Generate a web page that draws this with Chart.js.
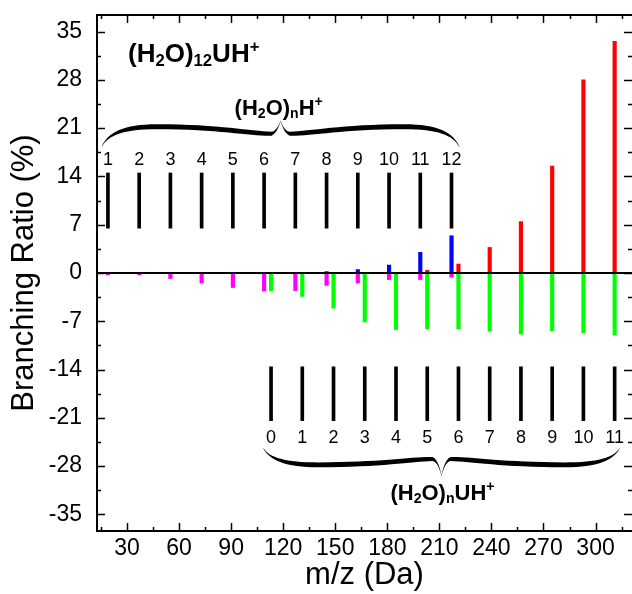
<!DOCTYPE html>
<html>
<head>
<meta charset="utf-8">
<script src="https://cdn.jsdelivr.net/npm/chart.js@4"></script>
<style>
  body { margin: 0; background: #fff; }
  #wrap { width: 632px; height: 594px; }
</style>
</head>
<body>
<div id="wrap"><canvas id="chart" width="632" height="594"></canvas></div>
<script>
// masses (Da) of the two cluster series
const waterN = [1, 2, 3, 4, 5, 6, 7, 8, 9, 10, 11, 12];
const waterMass = [19, 37, 55, 73, 91, 109, 127, 145, 163, 181, 199, 217];
const uracilN = [0, 1, 2, 3, 4, 5, 6, 7, 8, 9, 10, 11];
const uracilMass = [113, 131, 149, 167, 185, 203, 221, 239, 257, 275, 293, 311];

// branching ratios (%)
const magentaVals = [-0.25, -0.25, -0.8, -1.45, -2.1, -2.6, -2.55, -1.8, -1.45, -0.95, -0.95, -0.6];
const blueMass = [145, 163, 181, 199, 217];
const blueVals = [0.2, 0.5, 1.15, 3.0, 5.4];
const greenVals = [-2.55, -3.4, -5.1, -7.1, -8.2, -8.1, -8.1, -8.45, -8.85, -8.35, -8.65, -9.0];
const redMass = [203, 221, 239, 257, 275, 293, 311];
const redVals = [0.4, 1.3, 3.7, 7.45, 15.5, 28.0, 33.6];

// marker sticks
const waterStick = [6.5, 14.5];
const uracilStick = [-21.4, -13.6];

// axis ticks
const xTicks = [30, 60, 90, 120, 150, 180, 210, 240, 270, 300];
const xMinor = [15, 45, 75, 105, 135, 165, 195, 225, 255, 285, 315];
const yTicks = [-35, -28, -21, -14, -7, 0, 7, 14, 21, 28, 35];
const yMinor = [-31.5, -24.5, -17.5, -10.5, -3.5, 3.5, 10.5, 17.5, 24.5, 31.5];

const FONT = '"Liberation Sans", Arial, Helvetica, sans-serif';

function pts(xs, ys) { return xs.map((x, i) => ({ x: x, y: ys[i] })); }

function chem(ctx, parts, x, y, size, align) {
    // parts: [text, kind] kind = '', 'sub', 'sup'
    const small = size * 0.64;
    let w = 0;
    parts.forEach(p => {
        ctx.font = 'bold ' + (p[1] ? small : size) + 'px ' + FONT;
        w += ctx.measureText(p[0]).width;
    });
    let cx = align === 'left' ? x : x - w / 2;
    ctx.textAlign = 'left';
    ctx.textBaseline = 'alphabetic';
    const base = y + size * 0.36;
    parts.forEach(p => {
        ctx.font = 'bold ' + (p[1] ? small : size) + 'px ' + FONT;
        let dy = 0;
        if (p[1] === 'sub') dy = size * 0.16;
        if (p[1] === 'sup') dy = -size * 0.38;
        ctx.fillText(p[0], cx, base + dy);
        cx += ctx.measureText(p[0]).width;
    });
}

function brace(ctx, x0, x1, yE, yB, yC) {
    const xc = (x0 + x1) / 2;
    const s = (yE - yB) * 0.35;
    const dir = yB < yE ? -1 : 1;
    // [x, y, weight]
    const p = [
        [x0, yE, 0.1],
        [x0 + 6, yB + (yE - yB) * 0.35, 0.5], [x0 + 22, yB, 1], [x0 + 55, yB, 1],
        [xc - 60, yB, 1], [xc - 30, yB + s, 1], [xc - 9, yB + s, 0.8],
        [xc - 3, yB + s * 0.7, 0.5], [xc - 1, yC + (yB - yC) * 0.3, 0.3], [xc, yC, 0.15],
        [xc + 1, yC + (yB - yC) * 0.3, 0.3], [xc + 3, yB + s * 0.7, 0.5], [xc + 9, yB + s, 0.8],
        [xc + 30, yB + s, 1], [xc + 60, yB, 1], [x1 - 55, yB, 1],
        [x1 - 22, yB, 1], [x1 - 6, yB + (yE - yB) * 0.35, 0.5], [x1, yE, 0.1]
    ];
    const h = 2.4;
    ctx.beginPath();
    ctx.moveTo(p[0][0], p[0][1] + dir * h * p[0][2]);
    for (let i = 1; i < p.length; i += 3) {
        ctx.bezierCurveTo(p[i][0], p[i][1] + dir * h * p[i][2],
            p[i + 1][0], p[i + 1][1] + dir * h * p[i + 1][2],
            p[i + 2][0], p[i + 2][1] + dir * h * p[i + 2][2]);
    }
    const r = p.slice().reverse();
    ctx.lineTo(r[0][0], r[0][1] - dir * h * r[0][2]);
    for (let i = 1; i < r.length; i += 3) {
        ctx.bezierCurveTo(r[i][0], r[i][1] - dir * h * r[i][2],
            r[i + 1][0], r[i + 1][1] - dir * h * r[i + 1][2],
            r[i + 2][0], r[i + 2][1] - dir * h * r[i + 2][2]);
    }
    ctx.closePath();
    ctx.fillStyle = '#000';
    ctx.fill();
}

const frame = {
    id: 'frame',
    afterDatasetsDraw(chart) {
        const { ctx, chartArea: a, scales: { x, y } } = chart;
        ctx.save();
        ctx.strokeStyle = '#000';
        ctx.lineWidth = 2;
        const y0 = y.getPixelForValue(0);
        ctx.beginPath();
        ctx.moveTo(a.left, y0);
        ctx.lineTo(a.right, y0);
        ctx.stroke();
        ctx.restore();
    },
    afterDraw(chart) {
        const { ctx, chartArea: a, scales: { x, y } } = chart;
        ctx.save();
        ctx.strokeStyle = '#000';
        ctx.lineWidth = 2;
        ctx.beginPath();
        ctx.moveTo(a.right + 1, a.top);
        ctx.lineTo(a.left, a.top);
        ctx.lineTo(a.left, a.bottom);
        ctx.lineTo(a.right + 1, a.bottom);
        ctx.stroke();

        ctx.lineWidth = 1.5;
        ctx.beginPath();
        const tx = (v, len) => {
            const px = Math.round(x.getPixelForValue(v)) + 0.5;
            ctx.moveTo(px, a.bottom); ctx.lineTo(px, a.bottom - len);
            ctx.moveTo(px, a.top); ctx.lineTo(px, a.top + len);
        };
        const ty = (v, len) => {
            const py = Math.round(y.getPixelForValue(v)) + 0.5;
            ctx.moveTo(a.left, py); ctx.lineTo(a.left + len, py);
            ctx.moveTo(a.right, py); ctx.lineTo(a.right - len, py);
        };
        xTicks.forEach(v => tx(v, 8));
        xMinor.forEach(v => tx(v, 4));
        yTicks.forEach(v => ty(v, 8));
        yMinor.forEach(v => ty(v, 4));
        ctx.stroke();

        // braces
        brace(ctx, x.getPixelForValue(15.5), x.getPixelForValue(221.5),
            y.getPixelForValue(18.3), y.getPixelForValue(21.2), y.getPixelForValue(22.0));
        brace(ctx, x.getPixelForValue(108.6), x.getPixelForValue(313.9),
            y.getPixelForValue(-25.4), y.getPixelForValue(-27.8), y.getPixelForValue(-29.4));

        // cluster size labels
        ctx.fillStyle = '#000';
        ctx.font = '18px ' + FONT;
        ctx.textAlign = 'center';
        ctx.textBaseline = 'middle';
        waterMass.forEach((m, i) => {
            ctx.fillText(String(waterN[i]), x.getPixelForValue(m), y.getPixelForValue(16.4));
        });
        uracilMass.forEach((m, i) => {
            ctx.fillText(String(uracilN[i]), x.getPixelForValue(m), y.getPixelForValue(-23.9));
        });

        chem(ctx, [['(H', ''], ['2', 'sub'], ['O)', ''], ['12', 'sub'], ['UH', ''], ['+', 'sup']],
            x.getPixelForValue(30.6), y.getPixelForValue(31.9), 26, 'left');
        chem(ctx, [['(H', ''], ['2', 'sub'], ['O)', ''], ['n', 'sub'], ['H', ''], ['+', 'sup']],
            x.getPixelForValue(117.4), y.getPixelForValue(24.1), 22, 'center');
        chem(ctx, [['(H', ''], ['2', 'sub'], ['O)', ''], ['n', 'sub'], ['UH', ''], ['+', 'sup']],
            x.getPixelForValue(211.8), y.getPixelForValue(-31.7), 22, 'center');
        ctx.restore();
    }
};

const barStyle = { barThickness: 3.5, borderWidth: 0, grouped: false };
const markStyle = { barThickness: 3, borderWidth: 0, grouped: false };

new Chart(document.getElementById('chart'), {
    type: 'bar',
    data: {
        datasets: [
            Object.assign({ label: 'water loss', data: pts(waterMass, magentaVals), backgroundColor: '#ff00ff' }, barStyle),
            Object.assign({ label: 'water', data: pts(blueMass, blueVals), backgroundColor: '#0000ff' }, barStyle),
            Object.assign({ label: 'uracil loss', data: pts(uracilMass, greenVals), backgroundColor: '#00ff00' }, barStyle),
            Object.assign({ label: 'uracil', data: pts(redMass, redVals), backgroundColor: '#ff0000' }, barStyle),
            Object.assign({ label: 'water marks', data: waterMass.map(m => ({ x: m, y: waterStick })), backgroundColor: '#000' }, markStyle),
            Object.assign({ label: 'uracil marks', data: uracilMass.map(m => ({ x: m, y: uracilStick })), backgroundColor: '#000' }, markStyle)
        ]
    },
    options: {
        responsive: false,
        animation: false,
        layout: { padding: { top: 15, left: 0, right: 0, bottom: 0 } },
        plugins: { legend: { display: false }, tooltip: { enabled: false } },
        scales: {
            x: {
                type: 'linear',
                offset: false,
                min: 12.7,
                max: 321,
                afterBuildTicks: s => { s.ticks = xTicks.map(v => ({ value: v })); },
                afterFit: s => { s.height = 63; s.paddingLeft = 0; s.paddingRight = 0; },
                grid: { display: false, drawTicks: false, offset: false },
                border: { display: false },
                ticks: { color: '#000', padding: 4, maxRotation: 0, autoSkip: false, font: { family: FONT, size: 23 } },
                title: { display: true, text: 'm/z (Da)', color: '#000', padding: { top: 0, bottom: 0 }, font: { family: FONT, size: 31 } }
            },
            y: {
                min: -37.4,
                max: 37.4,
                afterBuildTicks: s => { s.ticks = yTicks.map(v => ({ value: v })); },
                afterFit: s => { s.width = 97; s.paddingTop = 0; s.paddingBottom = 0; },
                grid: { display: false, drawTicks: false },
                border: { display: false },
                ticks: { color: '#000', padding: 15, autoSkip: false, font: { family: FONT, size: 23 } },
                title: { display: true, text: 'Branching Ratio (%)', color: '#000', padding: { top: 6, bottom: 0 }, font: { family: FONT, size: 31 } }
            }
        }
    },
    plugins: [frame]
});
</script>
</body>
</html>
